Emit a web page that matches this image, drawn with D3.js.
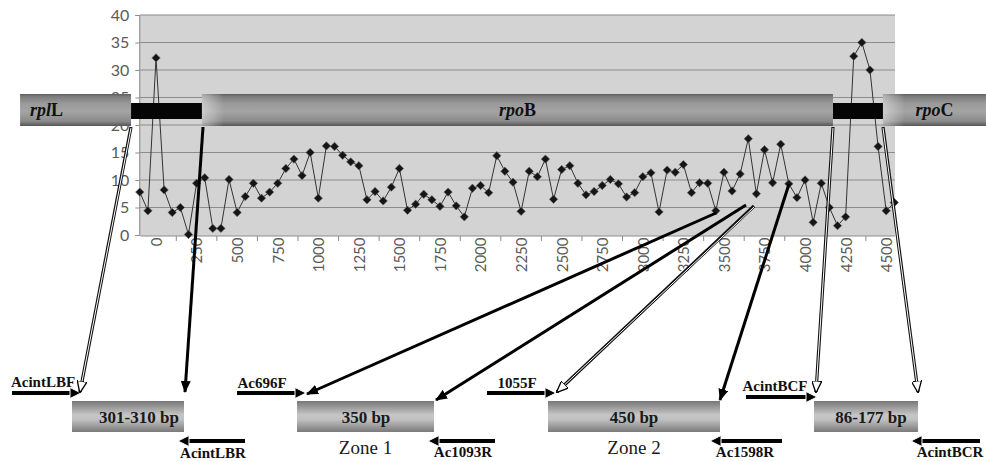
<!DOCTYPE html>
<html><head><meta charset="utf-8">
<script src="https://cdn.jsdelivr.net/npm/d3@7/dist/d3.min.js"></script>
<style>body{margin:0;background:#fff} svg{display:block}</style>
</head><body><svg id="c" width="986" height="461"></svg>
<script>
// ---------- data ----------
const positions = [-100,-50,0,50,100,150,200,250,300,350,400,450,500,550,600,650,700,750,800,850,900,950,1000,1050,1100,1150,1200,1250,1300,1350,1400,1450,1500,1550,1600,1650,1700,1750,1800,1850,1900,1950,2000,2050,2100,2150,2200,2250,2300,2350,2400,2450,2500,2550,2600,2650,2700,2750,2800,2850,2900,2950,3000,3050,3100,3150,3200,3250,3300,3350,3400,3450,3500,3550,3600,3650,3700,3750,3800,3850,3900,3950,4000,4050,4100,4150,4200,4250,4300,4350,4400,4450,4500,4550];
const values = [7.8,4.4,32.2,8.2,4.1,5.0,0.1,9.4,10.4,1.2,1.2,10.1,4.1,7.0,9.4,6.7,7.8,9.4,12.1,13.8,10.8,15.0,6.7,16.2,16.1,14.5,13.3,12.6,6.4,7.9,6.2,8.7,12.1,4.5,5.6,7.4,6.4,5.2,7.8,5.3,3.3,8.5,9.0,7.7,14.4,11.6,9.6,4.3,11.6,10.6,13.8,6.5,11.9,12.6,9.4,7.3,7.9,9.0,10.1,9.3,6.9,7.7,10.6,11.3,4.2,11.8,11.4,12.8,7.7,9.5,9.4,4.4,11.4,8.0,11.1,17.5,7.5,15.5,9.5,16.5,9.3,6.8,10.0,2.3,9.4,5.0,1.7,3.3,32.5,35.0,30.0,16.1,4.4,5.9];
const yTicks = [0,5,10,15,20,25,30,35,40];
const xTickLabels = [0,250,500,750,1000,1250,1500,1750,2000,2250,2500,2750,3000,3250,3500,3750,4000,4250,4500];
const xMinorTicks = [125,375,625,875,1125,1375,1625,1875,2125,2375,2625,2875,3125,3375,3625,3875,4125,4375];

// gene map (in bp along the same axis)
const geneNames = ["rpl|L","rpo|B","rpo|C"];
const geneStarts = [-838,283,4480];
const geneEnds = [-154,4172,5115];
const linkerStarts = [-154,4172];
const linkerEnds = [283,4493];

// amplicons
const ampliconLabels = ["301-310 bp","350 bp","450 bp","86-177 bp"];
const zoneLabels = ["","Zone 1","Zone 2",""];
const fwdPrimers = ["AcintLBF","Ac696F","1055F","AcintBCF"];
const revPrimers = ["AcintLBR","Ac1093R","Ac1598R","AcintBCR"];

// ---------- layout ----------
const L = {
  xRange:[139.8,894.3], yRange:[235,15],
  bandTop:94, bandBot:126, linkTop:103, linkBot:119,
  boxes:[[72,184],[297,434],[548,720],[814,918]], boxTop:401, boxBot:432,
  boxTextX:[139,366,634,871],
  fwd:[[12,81,393,43,387],[237,306,393,262,388],[487,556,393,517,388],[746,817,397,775,391]],
  rev:[[245,178,441,213,458],[495,428,441,463,457],[782,710,441,745,457],[980,911,441,950,457]],
  connectors:[
    {x1:131,y1:127,x2:80,y2:392,hollow:true},
    {x1:203,y1:127,x2:185,y2:392,hollow:false},
    {x1:716,y1:213,x2:307,y2:394,hollow:false},
    {x1:746,y1:205,x2:436,y2:400,hollow:false},
    {x1:754,y1:206,x2:557,y2:392,hollow:true},
    {x1:789,y1:184,x2:720,y2:400,hollow:false},
    {x1:833,y1:127,x2:816,y2:392,hollow:true},
    {x1:883,y1:127,x2:918,y2:392,hollow:true}
  ]
};

const svg = d3.select("#c");
const x = d3.scaleLinear().domain([positions[0], positions[positions.length-1]]).range(L.xRange);
const y = d3.scaleLinear().domain([0,40]).range(L.yRange);

const defs = svg.append("defs");
function vgrad(id, stops){
  const g = defs.append("linearGradient").attr("id",id).attr("x1",0).attr("y1",0).attr("x2",0).attr("y2",1);
  stops.forEach(s=>g.append("stop").attr("offset",s[0]).attr("stop-color",s[1]));
}
vgrad("cyl",[[0,"#5e5e5e"],[0.08,"#7c7c7c"],[0.3,"#9a9a9a"],[0.55,"#a4a4a4"],[0.85,"#8a8a8a"],[1,"#555"]]);
vgrad("box",[[0,"#777"],[0.45,"#c6c6c6"],[0.6,"#c0c0c0"],[1,"#7a7a7a"]]);
const hg = defs.append("linearGradient").attr("id","shine").attr("x1",0).attr("x2",1).attr("y1",0).attr("y2",0);
hg.append("stop").attr("offset",0).attr("stop-color","#fff").attr("stop-opacity",0.45);
hg.append("stop").attr("offset",1).attr("stop-color","#fff").attr("stop-opacity",0);

// markers
defs.append("marker").attr("id","headSolid").attr("viewBox","0 0 12 10").attr("refX",11).attr("refY",5)
  .attr("markerWidth",12).attr("markerHeight",10).attr("markerUnits","userSpaceOnUse").attr("orient","auto")
  .append("path").attr("d","M0,0 L12,5 L0,10 Z").attr("fill","#000");
defs.append("marker").attr("id","headOpen").attr("viewBox","0 0 12 10").attr("refX",11).attr("refY",5)
  .attr("markerWidth",12).attr("markerHeight",10).attr("markerUnits","userSpaceOnUse").attr("orient","auto")
  .append("path").attr("d","M0,0 L12,5 L0,10 Z").attr("fill","#fff").attr("stroke","#000").attr("stroke-width",1.3);

// plot background
svg.append("rect").attr("x",L.xRange[0]-0.8).attr("y",y(40)).attr("width",L.xRange[1]-L.xRange[0]+1.5)
  .attr("height",y(0)-y(40)+1).attr("fill","#d3d3d3");

// gridlines
svg.append("g").selectAll("line").data(yTicks.filter(d=>d>0)).join("line")
  .attr("x1",L.xRange[0]).attr("x2",L.xRange[1]+0.7).attr("y1",d=>y(d)).attr("y2",d=>y(d))
  .attr("stroke","#8c8c8c").attr("stroke-width",1);

// y axis
const ya = svg.append("g").attr("transform",`translate(${L.xRange[0]-0.5},0)`)
  .call(d3.axisLeft(y).tickValues(yTicks).tickSize(4).tickPadding(6));
ya.select(".domain").attr("stroke","#8c8c8c");
ya.selectAll(".tick line").attr("stroke","#8c8c8c");
ya.selectAll("text").attr("fill","#5a5a5a").style("font-family","Lato, 'Open Sans', sans-serif").style("font-size","16px");

// x axis
const xa = svg.append("g").attr("transform",`translate(0,${y(0)+0.5})`)
  .call(d3.axisBottom(x).tickValues(xTickLabels).tickSize(0).tickFormat(d3.format("d")));
xa.select(".domain").attr("stroke","#8c8c8c");
xa.selectAll("text").attr("transform","rotate(-90)").attr("x",-2).attr("y",0).attr("dy","0.36em")
  .style("text-anchor","end").attr("fill","#5a5a5a").style("font-family","Lato, 'Open Sans', sans-serif").style("font-size","15px");
svg.append("g").selectAll("line").data(xMinorTicks).join("line")
  .attr("x1",d=>x(d)).attr("x2",d=>x(d)).attr("y1",y(0)+1).attr("y2",y(0)+6).attr("stroke","#8c8c8c");

// data line + markers
const pts = positions.map((p,i)=>[p,values[i]]);
svg.append("path").datum(pts).attr("fill","none").attr("stroke","#333").attr("stroke-width",1)
  .attr("d",d3.line().x(d=>x(d[0])).y(d=>y(d[1])));
svg.append("g").selectAll("path").data(pts).join("path")
  .attr("transform",d=>`translate(${x(d[0])},${y(d[1])})`)
  .attr("d","M0,-4.2 L4.2,0 L0,4.2 L-4.2,0 Z").attr("fill","#151515").attr("stroke","#666").attr("stroke-width",0.6);

// gene band
const band = svg.append("g");
band.selectAll("rect.link").data(linkerStarts).join("rect").attr("class","link")
  .attr("x",(d,i)=>x(d)).attr("width",(d,i)=>x(linkerEnds[i])-x(d))
  .attr("y",L.linkTop).attr("height",L.linkBot-L.linkTop).attr("fill","#050505");
band.selectAll("rect.gene").data(geneStarts).join("rect").attr("class","gene")
  .attr("x",d=>x(d)).attr("width",(d,i)=>x(geneEnds[i])-x(d))
  .attr("y",L.bandTop).attr("height",L.bandBot-L.bandTop).attr("fill","url(#cyl)");
band.selectAll("rect.shine").data(geneStarts.slice(1)).join("rect").attr("class","shine")
  .attr("x",d=>x(d)).attr("width",22).attr("y",L.bandTop).attr("height",L.bandBot-L.bandTop).attr("fill","url(#shine)");
const gx = [x(geneStarts[0])+10, (x(geneStarts[1])+x(geneEnds[1]))/2, (x(geneStarts[2])+986)/2];
geneNames.forEach((n,i)=>{
  const [it,up] = n.split("|");
  const t = band.append("text").attr("x",gx[i]).attr("y",116)
    .attr("text-anchor", i===0 ? "start" : "middle")
    .style("font-family","'Liberation Serif', 'Times New Roman', serif").style("font-size","18px").style("font-weight","bold").attr("fill","#111");
  t.append("tspan").style("font-style","italic").text(it);
  t.append("tspan").text(up);
});

// amplicon boxes
const bx = svg.append("g");
L.boxes.forEach((b,i)=>{
  bx.append("rect").attr("x",b[0]).attr("y",L.boxTop).attr("width",b[1]-b[0]).attr("height",L.boxBot-L.boxTop).attr("fill","url(#box)");
  bx.append("text").attr("x",L.boxTextX[i]).attr("y",423).attr("text-anchor","middle")
    .style("font-family","'Liberation Serif', serif").style("font-size","17px").style("font-weight","bold").attr("fill","#1a1a1a")
    .text(ampliconLabels[i]);
  if (zoneLabels[i]) bx.append("text").attr("x",(b[0]+b[1])/2).attr("y",454).attr("text-anchor","middle")
    .style("font-family","'Liberation Serif', serif").style("font-size","19px").attr("fill","#1a1a1a").text(zoneLabels[i]);
});

// primers (thick arrows with explicit triangular heads)
const serifB = s=>s.style("font-family","'Liberation Serif', serif").style("font-size","15px").style("font-weight","bold").attr("fill","#111");
function primer(f){
  const dir = f[1] > f[0] ? 1 : -1, head = 11, hw = 5.5;
  bx.append("line").attr("x1",f[0]).attr("x2",f[1]-dir*head+dir*1).attr("y1",f[2]).attr("y2",f[2]).attr("stroke","#000").attr("stroke-width",4);
  bx.append("path").attr("d",`M${f[1]},${f[2]} L${f[1]-dir*head},${f[2]-hw} L${f[1]-dir*head},${f[2]+hw} Z`)
    .attr("fill","#000").attr("stroke","#fff").attr("stroke-width",1).attr("stroke-linejoin","round");
}
L.fwd.forEach((f,i)=>{ primer(f); serifB(bx.append("text").attr("x",f[3]).attr("y",f[4]).attr("text-anchor","middle").text(fwdPrimers[i])); });
L.rev.forEach((f,i)=>{ primer(f); serifB(bx.append("text").attr("x",f[3]).attr("y",f[4]).attr("text-anchor","middle").text(revPrimers[i])); });

// connectors
const cg = svg.append("g");
L.connectors.forEach(c=>{
  if (c.hollow){
    cg.append("line").attr("x1",c.x1).attr("y1",c.y1).attr("x2",c.x2).attr("y2",c.y2).attr("stroke","#111").attr("stroke-width",3.2).attr("marker-end","url(#headOpen)");
    cg.append("line").attr("x1",c.x1).attr("y1",c.y1+1).attr("x2",c.x2 + (c.x1-c.x2)*0.04).attr("y2",c.y2 - (c.y2-c.y1)*0.04).attr("stroke","#fff").attr("stroke-width",1);
  } else {
    cg.append("line").attr("x1",c.x1).attr("y1",c.y1).attr("x2",c.x2).attr("y2",c.y2).attr("stroke","#000").attr("stroke-width",3).attr("marker-end","url(#headSolid)");
  }
});
</script></body></html>
